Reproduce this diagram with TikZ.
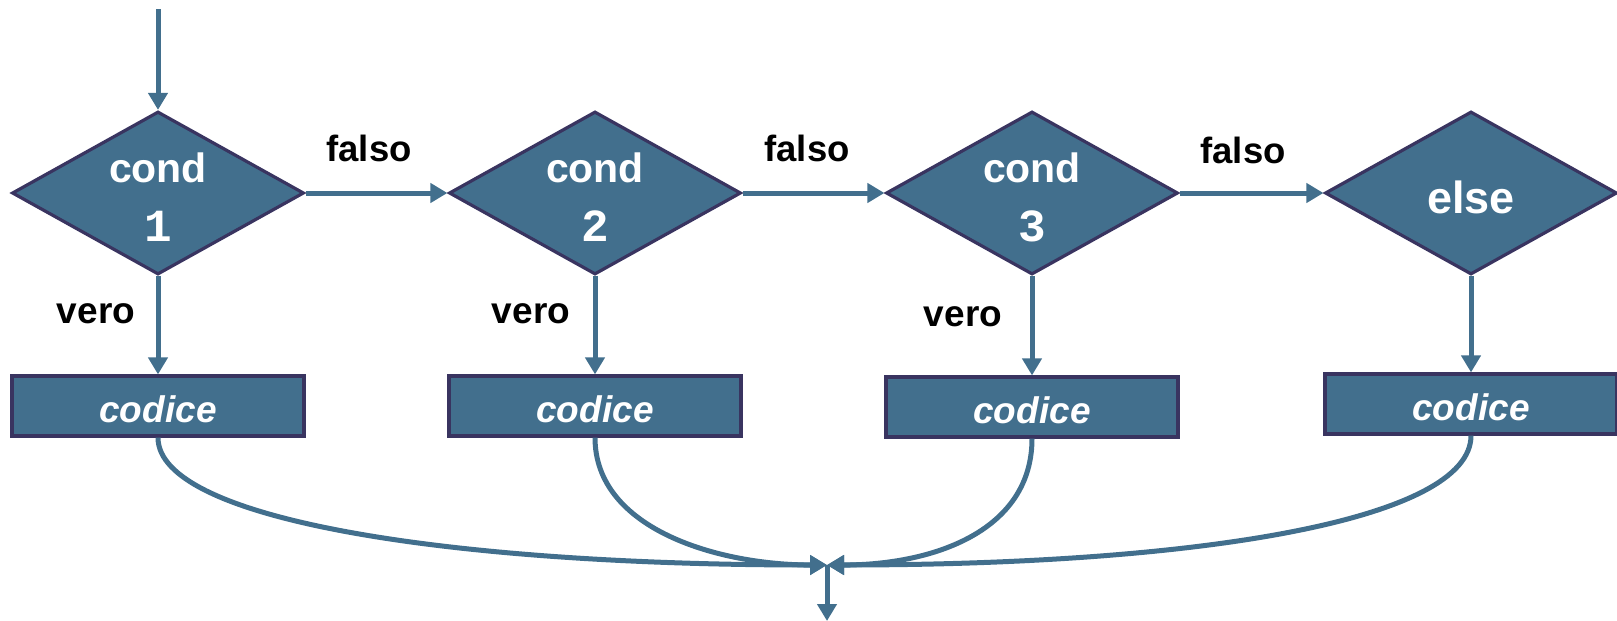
\documentclass[tikz,border=0pt]{standalone}
\usepackage{fontspec}
\setmainfont{Liberation Sans}
\newfontfamily\monob{Liberation Mono}
\usetikzlibrary{shapes.geometric,arrows.meta}
\definecolor{fillb}{RGB}{66,111,141}
\definecolor{edgeb}{RGB}{57,52,96}
\definecolor{lineb}{RGB}{66,111,141}
\tikzset{
  dec/.style={diamond,draw=edgeb,fill=fillb,line width=3.2pt,minimum width=292pt,minimum height=163pt,inner sep=0pt},
  dectext/.style={text=white,align=center,inner sep=0pt,font=\bfseries\fontsize{41}{59}\selectfont},
  codebox/.style={rectangle,draw=edgeb,fill=fillb,line width=3.2pt,minimum width=292pt,minimum height=60pt,inner sep=0pt,text=white,font=\bfseries\itshape\fontsize{37}{40}\selectfont},
  arr/.style={draw=lineb,line width=5pt,-{Triangle[length=17pt,width=19pt]}},
  lbl/.style={font=\bfseries\fontsize{36.5}{40}\selectfont,text=black,inner sep=0pt},
  vlbl/.style={font=\bfseries\fontsize{37}{40}\selectfont,text=black,inner sep=0pt},
}
\begin{document}
\begin{tikzpicture}[x=1pt,y=-1pt]
\useasboundingbox (0,0) rectangle (1617,621);
\node[dec] (d1) at (158,193) {};
\node[dec] (d2) at (595,193) {};
\node[dec] (d3) at (1032,193) {};
\node[dec] (d4) at (1471,193) {};
\node[dectext] (t1) at (158,197) {cond\\{\monob\bfseries\fontsize{46}{59}\selectfont 1}};
\node[dectext] (t2) at (595,197) {cond\\{\monob\bfseries\fontsize{46}{59}\selectfont 2}};
\node[dectext] (t3) at (1032,197) {cond\\{\monob\bfseries\fontsize{46}{59}\selectfont 3}};
\node[dectext,font=\bfseries\fontsize{45}{59}\selectfont] (t4) at (1471,197) {else};
\node[codebox] (c1) at (158,406) {};
\node[codebox] (c2) at (595,406) {};
\node[codebox] (c3) at (1032,407) {};
\node[codebox] (c4) at (1471,404) {};
\node[codebox,draw=none,fill=none,minimum width=0pt,minimum height=0pt] (k1) at (158,409) {codice};
\node[codebox,draw=none,fill=none,minimum width=0pt,minimum height=0pt] (k2) at (595,409) {codice};
\node[codebox,draw=none,fill=none,minimum width=0pt,minimum height=0pt] (k3) at (1032,410) {codice};
\node[codebox,draw=none,fill=none,minimum width=0pt,minimum height=0pt] (k4) at (1471,407) {codice};
\coordinate (start) at (158,9);
\coordinate (m) at (827,565);
\coordinate (end) at (827,621);
\draw[arr] (start) -- (d1.north);
\draw[arr] (d1.east) -- (d2.west);
\draw[arr] (d2.east) -- (d3.west);
\draw[arr] (d3.east) -- (d4.west);
\draw[arr] (d1.south) -- (c1.north);
\draw[arr] (d2.south) -- (c2.north);
\draw[arr] (d3.south) -- (c3.north);
\draw[arr] (d4.south) -- (c4.north);
\node[lbl] (f1) at (369,148) {falso};
\node[lbl] (f2) at (807,148) {falso};
\node[lbl] (f3) at (1243,150) {falso};
\node[vlbl] (v1) at (96,314) {vero};
\node[vlbl] (v2) at (531,314) {vero};
\node[vlbl] (v3) at (963,317) {vero};
\draw[arr] (c1.south) .. controls (158,520) and (450,565) .. (m);
\draw[arr] (c2.south) .. controls (595,530) and (720,565) .. (m);
\draw[arr] (c3.south) .. controls (1032,530) and (935,565) .. (m);
\draw[arr] (c4.south) .. controls (1471,520) and (1200,565) .. (m);
\draw[arr] (m) -- (end);
\end{tikzpicture}
\end{document}
